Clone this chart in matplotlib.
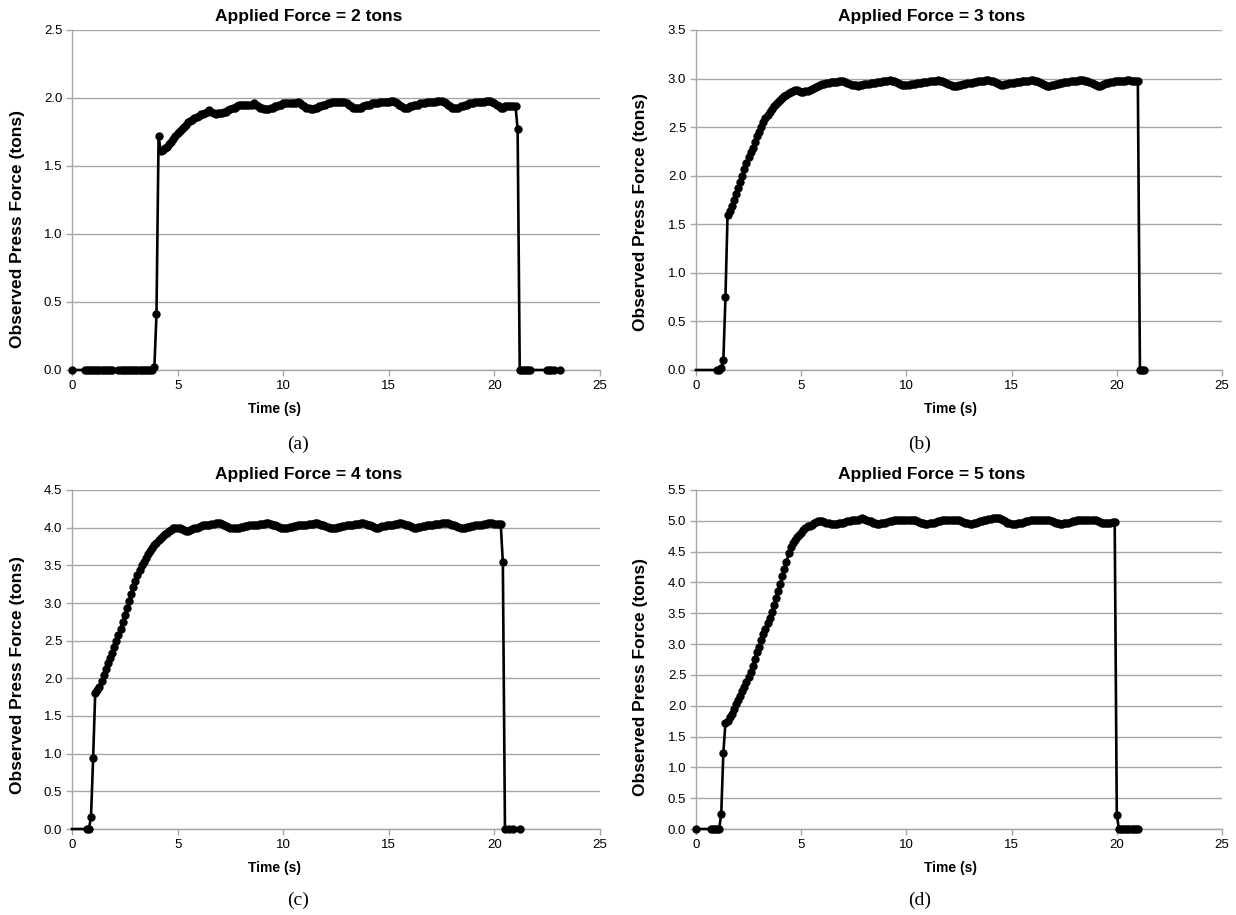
import matplotlib
matplotlib.use("Agg")
import matplotlib.pyplot as plt
from matplotlib.ticker import FormatStrFormatter

A_LEAD_T = [0.0, 0.6, 0.7, 0.8, 0.9, 1.0, 1.1, 1.2, 1.3, 1.4, 1.5, 1.6, 1.7, 1.8, 1.9,
            2.2, 2.3, 2.4, 2.5, 2.6, 2.7, 2.8, 2.9]
A_START = 3.0
A_FORCE = [
    0.00, 0.00, 0.00, 0.00, 0.00, 0.00, 0.00, 0.00, 0.00, 0.02,
    0.41, 1.72, 1.61, 1.62, 1.63, 1.64, 1.66, 1.68, 1.70, 1.72,
    1.74, 1.76, 1.77, 1.79, 1.80, 1.82, 1.83, 1.84, 1.85, 1.86,
    1.87, 1.88, 1.88, 1.89, 1.90, 1.91, 1.90, 1.89, 1.88, 1.89,
    1.89, 1.89, 1.90, 1.90, 1.91, 1.92, 1.93, 1.93, 1.94, 1.95,
    1.95, 1.95, 1.95, 1.95, 1.95, 1.95, 1.96, 1.95, 1.94, 1.93,
    1.93, 1.92, 1.92, 1.92, 1.93, 1.93, 1.94, 1.94, 1.95, 1.95,
    1.96, 1.96, 1.96, 1.96, 1.96, 1.96, 1.96, 1.97, 1.96, 1.95,
    1.94, 1.93, 1.93, 1.92, 1.92, 1.93, 1.93, 1.94, 1.94, 1.95,
    1.95, 1.96, 1.96, 1.97, 1.97, 1.97, 1.97, 1.97, 1.97, 1.97,
    1.96, 1.95, 1.94, 1.93, 1.93, 1.93, 1.93, 1.93, 1.94, 1.95,
    1.95, 1.95, 1.96, 1.96, 1.96, 1.96, 1.97, 1.97, 1.97, 1.97,
    1.97, 1.98, 1.98, 1.97, 1.96, 1.95, 1.94, 1.93, 1.93, 1.93,
    1.94, 1.94, 1.95, 1.95, 1.95, 1.96, 1.96, 1.96, 1.97, 1.97,
    1.97, 1.97, 1.97, 1.98, 1.98, 1.98, 1.97, 1.96, 1.95, 1.94,
    1.93, 1.93, 1.93, 1.93, 1.94, 1.94, 1.95, 1.95, 1.96, 1.96,
    1.96, 1.97, 1.97, 1.97, 1.97, 1.97, 1.98, 1.98, 1.98, 1.97,
    1.96, 1.95, 1.94, 1.93, 1.93, 1.94, 1.94, 1.94, 1.94, 1.94,
    1.94, 1.77,
]
A_TAIL_T = [21.2, 21.3, 21.4, 21.5, 21.6, 21.7, 22.5, 22.6, 22.7, 22.8, 23.1]

B_LEAD_T = [0.0]
B_START = 1.0
B_FORCE = [
    0.00, 0.00, 0.02, 0.10, 0.75, 1.60, 1.64, 1.69, 1.75, 1.81,
    1.87, 1.94, 2.00, 2.07, 2.13, 2.19, 2.24, 2.29, 2.35, 2.41,
    2.45, 2.50, 2.55, 2.59, 2.63, 2.66, 2.69, 2.72, 2.74, 2.76,
    2.78, 2.80, 2.82, 2.83, 2.85, 2.86, 2.87, 2.88, 2.88, 2.87,
    2.86, 2.86, 2.87, 2.87, 2.88, 2.89, 2.90, 2.91, 2.92, 2.93,
    2.94, 2.94, 2.95, 2.95, 2.96, 2.96, 2.96, 2.96, 2.97, 2.97,
    2.97, 2.96, 2.95, 2.94, 2.93, 2.93, 2.93, 2.92, 2.93, 2.93,
    2.94, 2.94, 2.94, 2.95, 2.95, 2.95, 2.96, 2.96, 2.96, 2.97,
    2.98, 2.98, 2.99, 2.98, 2.97, 2.96, 2.95, 2.94, 2.93, 2.93,
    2.93, 2.93, 2.94, 2.94, 2.94, 2.95, 2.95, 2.95, 2.96, 2.96,
    2.96, 2.97, 2.97, 2.98, 2.98, 2.99, 2.98, 2.97, 2.96, 2.95,
    2.94, 2.93, 2.92, 2.92, 2.92, 2.93, 2.93, 2.94, 2.94, 2.95,
    2.95, 2.95, 2.96, 2.96, 2.97, 2.97, 2.98, 2.98, 2.99, 2.99,
    2.98, 2.97, 2.96, 2.95, 2.94, 2.93, 2.93, 2.94, 2.94, 2.95,
    2.95, 2.95, 2.96, 2.96, 2.96, 2.97, 2.97, 2.97, 2.98, 2.99,
    2.99, 2.98, 2.97, 2.96, 2.95, 2.94, 2.93, 2.92, 2.92, 2.93,
    2.93, 2.94, 2.94, 2.95, 2.95, 2.96, 2.96, 2.96, 2.97, 2.97,
    2.98, 2.98, 2.99, 2.99, 2.99, 2.98, 2.97, 2.96, 2.95, 2.94,
    2.93, 2.92, 2.92, 2.93, 2.94, 2.95, 2.95, 2.96, 2.96, 2.97,
    2.97, 2.97, 2.98, 2.98, 2.98, 2.99, 2.99, 2.98, 2.98, 2.98,
    2.97,
]
B_TAIL_T = [21.1, 21.2, 21.3]

C_LEAD_T = [0.0]
C_START = 0.7
C_FORCE = [
    0.00, 0.00, 0.16,
    0.94, 1.81, 1.84, 1.89, 1.96, 2.04, 2.12, 2.20, 2.27, 2.33,
    2.41, 2.49, 2.57, 2.66, 2.75, 2.84, 2.93, 3.02, 3.12, 3.21,
    3.29, 3.37, 3.44, 3.50, 3.55, 3.60, 3.65, 3.69, 3.73, 3.77,
    3.80, 3.83, 3.86, 3.89, 3.91, 3.93, 3.95, 3.97, 3.99, 4.00,
    4.00, 3.99, 3.98, 3.97, 3.96, 3.96, 3.97, 3.98, 3.99, 4.00,
    4.01, 4.02, 4.03, 4.03, 4.04, 4.04, 4.05, 4.05, 4.06, 4.06,
    4.06, 4.05, 4.04, 4.02, 4.01, 4.00, 3.99, 3.99, 4.00, 4.00,
    4.01, 4.01, 4.02, 4.02, 4.03, 4.03, 4.04, 4.04, 4.04, 4.05,
    4.05, 4.05, 4.06, 4.06, 4.05, 4.04, 4.03, 4.02, 4.01, 4.00,
    3.99, 4.00, 4.00, 4.01, 4.01, 4.02, 4.02, 4.03, 4.03, 4.04,
    4.04, 4.04, 4.05, 4.05, 4.05, 4.06, 4.06, 4.05, 4.04, 4.03,
    4.02, 4.01, 4.00, 3.99, 3.99, 4.00, 4.01, 4.01, 4.02, 4.02,
    4.03, 4.03, 4.04, 4.04, 4.05, 4.05, 4.05, 4.06, 4.06, 4.05,
    4.04, 4.03, 4.02, 4.01, 4.00, 4.00, 4.01, 4.02, 4.02, 4.03,
    4.03, 4.04, 4.04, 4.05, 4.05, 4.06, 4.06, 4.05, 4.04, 4.03,
    4.02, 4.01, 4.00, 4.00, 4.01, 4.01, 4.02, 4.02, 4.03, 4.03,
    4.04, 4.04, 4.05, 4.05, 4.05, 4.06, 4.06, 4.06, 4.06, 4.05,
    4.04, 4.03, 4.02, 4.01, 4.00, 4.00, 4.00, 4.01, 4.01, 4.02,
    4.02, 4.03, 4.03, 4.04, 4.04, 4.05, 4.05, 4.06, 4.06, 4.06,
    4.05, 4.05, 4.05, 4.05, 3.54,
]
C_TAIL_T = [20.5, 20.7, 20.9, 21.2]

D_LEAD_T = [0.0, 0.7, 0.8, 0.9, 1.0, 1.1]
D_START = 1.2
D_FORCE = [
    0.25, 1.24, 1.72, 1.76, 1.81, 1.87, 1.94, 2.02,
    2.09, 2.16, 2.24, 2.30, 2.38, 2.46, 2.55, 2.65, 2.76, 2.87,
    2.96, 3.06, 3.16, 3.25, 3.34, 3.42, 3.52, 3.64, 3.75, 3.86,
    3.97, 4.10, 4.22, 4.33, 4.47, 4.58, 4.64, 4.69, 4.73, 4.77,
    4.81, 4.85, 4.88, 4.91, 4.92, 4.94, 4.96, 4.98, 4.99, 5.00,
    4.99, 4.98, 4.97, 4.96, 4.95, 4.95, 4.95, 4.95, 4.96, 4.96,
    4.97, 4.98, 4.99, 5.00, 5.01, 5.02, 5.02, 5.02, 5.03, 5.04,
    5.03, 5.02, 5.00, 4.99, 4.97, 4.96, 4.95, 4.95, 4.96, 4.97,
    4.97, 4.98, 4.99, 5.00, 5.01, 5.02, 5.02, 5.02, 5.02, 5.02,
    5.02, 5.02, 5.02, 5.02, 5.01, 5.00, 4.98, 4.97, 4.96, 4.95,
    4.95, 4.96, 4.96, 4.97, 4.98, 4.99, 5.00, 5.01, 5.02, 5.02,
    5.02, 5.02, 5.02, 5.02, 5.02, 5.01, 5.00, 4.98, 4.97, 4.96,
    4.95, 4.95, 4.96, 4.97, 4.98, 4.99, 5.00, 5.01, 5.02, 5.03,
    5.03, 5.04, 5.04, 5.05, 5.04, 5.03, 5.01, 4.99, 4.97, 4.96,
    4.95, 4.95, 4.95, 4.96, 4.96, 4.97, 4.98, 4.99, 5.00, 5.01,
    5.02, 5.02, 5.02, 5.02, 5.02, 5.02, 5.02, 5.02, 5.01, 4.99,
    4.98, 4.97, 4.96, 4.95, 4.95, 4.96, 4.97, 4.97, 4.98, 4.99,
    5.00, 5.01, 5.02, 5.02, 5.02, 5.02, 5.02, 5.02, 5.02, 5.02,
    5.01, 5.00, 4.98, 4.97, 4.96, 4.96, 4.96, 4.97, 4.98, 4.98,
    0.23,
]
D_TAIL_T = [20.1, 20.2, 20.3, 20.4, 20.5, 20.6, 20.7, 20.8, 20.9, 21.0]

TITLES = ["Applied Force = 2 tons", "Applied Force = 3 tons",
          "Applied Force = 4 tons", "Applied Force = 5 tons"]
CAPTIONS = ["(a)", "(b)", "(c)", "(d)"]
Y_TOPS = [2.5, 3.5, 4.5, 5.5]

W, H = 1236, 915
GRID = "#a6a6a6"
SANS = "Liberation Sans"
SERIF = "Liberation Serif"


def build(lead_t, start, force, tail_t):
    times = list(lead_t) + [round(start + 0.1 * i, 2) for i in range(len(force))] + list(tail_t)
    values = [0.0] * len(lead_t) + list(force) + [0.0] * len(tail_t)
    return times, values


def fx(px):
    return px / W


def fy(py):
    return 1 - py / H


series = [
    build(A_LEAD_T, A_START, A_FORCE, A_TAIL_T),
    build(B_LEAD_T, B_START, B_FORCE, B_TAIL_T),
    build(C_LEAD_T, C_START, C_FORCE, C_TAIL_T),
    build(D_LEAD_T, D_START, D_FORCE, D_TAIL_T),
]

# pixel boxes: left, right, top, bottom
boxes = [(72, 600, 30, 370), (696, 1222, 30, 370),
         (72, 600, 490, 829), (696, 1222, 490, 829)]
title_pos = [(309, 16), (932, 16), (309, 475), (932, 475)]
xlabel_pos = [(275, 409), (951, 409), (275, 868), (951, 868)]
caption_pos = [(298, 444), (920, 444), (298, 900), (920, 900)]
ylabel_pos = [(18, 229), (641, 212), (18, 675), (641, 677)]
# (b) and (c) start their trace at t = 0 without a marker
mark_from = [0, 1, 1, 0]

fig = plt.figure(figsize=(W / 100, H / 100), dpi=100)
fig.patch.set_facecolor("white")

for i, (times, values) in enumerate(series):
    left, right, top, bottom = boxes[i]
    ax = fig.add_axes([fx(left), fy(bottom), fx(right) - fx(left), (bottom - top) / H])
    ax.plot(times, values, color="black", linewidth=1.9, marker="o",
            markersize=5.0, markevery=slice(mark_from[i], None),
            clip_on=False, zorder=3)
    ax.set_xlim(0, 25)
    ax.set_ylim(0, Y_TOPS[i])
    ax.set_xticks(range(0, 26, 5))
    ax.set_yticks([k * 0.5 for k in range(int(Y_TOPS[i] / 0.5) + 1)])
    ax.yaxis.set_major_formatter(FormatStrFormatter("%.1f"))
    ax.yaxis.grid(True, color=GRID, linewidth=1.0)
    ax.set_axisbelow(True)
    for side in ("top", "right"):
        ax.spines[side].set_visible(False)
    for side in ("left", "bottom"):
        ax.spines[side].set_color(GRID)
        ax.spines[side].set_linewidth(1.0)
    ax.tick_params(direction="out", length=4, width=1.0, color=GRID,
                   labelsize=9.5, pad=3)
    for lab in ax.get_xticklabels() + ax.get_yticklabels():
        lab.set_fontfamily(SANS)

    tx, ty = title_pos[i]
    fig.text(fx(tx), fy(ty), TITLES[i], ha="center", va="center",
             fontsize=12.5, fontweight="bold", family=SANS)
    lx, ly = xlabel_pos[i]
    fig.text(fx(lx), fy(ly), "Time (s)", ha="center", va="center",
             fontsize=10, fontweight="bold", family=SANS)
    cx, cy = caption_pos[i]
    fig.text(fx(cx), fy(cy), CAPTIONS[i], ha="center", va="center",
             fontsize=14, family=SERIF)
    yx, yy = ylabel_pos[i]
    fig.text(fx(yx), fy(yy), "Observed Press Force (tons)", ha="center",
             va="center", rotation=90, fontsize=12.5, fontweight="bold", family=SANS)

fig.savefig("out.png", dpi=100)
